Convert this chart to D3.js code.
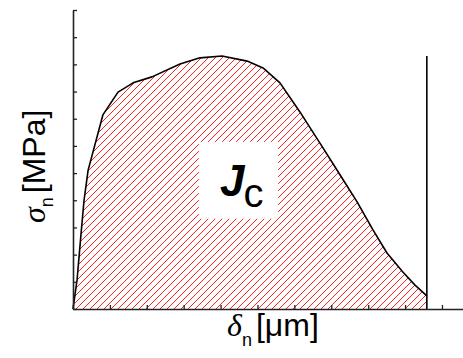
<!DOCTYPE html>
<html>
<head>
<meta charset="utf-8">
<script src="https://cdn.jsdelivr.net/npm/d3@7"></script>
<style>
  html, body { margin: 0; padding: 0; background: #fff; }
  svg { display: block; }
</style>
</head>
<body>
<svg id="chart" width="463" height="358"></svg>
<script>
// Traction-separation curve: normal opening (µm) vs. normal stress (MPa)
const opening = [0, 0.11, 0.22, 0.30, 0.41, 0.81, 1.22, 1.63, 2.14, 2.90, 3.44, 4.04, 4.72, 5.15, 5.61, 6.15, 6.78, 7.24, 7.70, 8.13, 8.51, 8.94, 9.27, 9.59];
const stress  = [0, 1.07, 2.80, 4.01, 5.11, 7.14, 7.98, 8.32, 8.54, 9.01, 9.24, 9.31, 9.12, 8.87, 8.32, 7.25, 5.92, 4.93, 3.94, 2.91, 2.06, 1.36, 0.88, 0.48];

const xTicks = [0, 1, 2, 3, 4, 5, 6, 7, 8, 9, 10];
const yTicks = [0, 1, 2, 3, 4, 5, 6, 7, 8, 9, 10, 11];

// Critical opening marker and the label box around J_c (data units)
const criticalOpening = 9.59;
const labelBox = { x0: 3.41, x1: 5.56, y0: 3.32, y1: 6.15 };

const points = opening.map((d, i) => ({ x: d, y: stress[i] }));
const peakStress = d3.max(stress);

const svg = d3.select("#chart");
const x = d3.scaleLinear().domain([0, 10.57]).range([73, 463]);
const y = d3.scaleLinear().domain([0, 11]).range([309, 10]);

// Diagonal red hatching
const defs = svg.append("defs");
const pat = defs.append("pattern")
  .attr("id", "hatch")
  .attr("patternUnits", "userSpaceOnUse")
  .attr("width", 7)
  .attr("height", 7);
pat.append("path")
  .attr("d", "M-1,1 L1,-1 M0,7 L7,0 M6,8 L8,6")
  .attr("stroke", "#ff2020")
  .attr("stroke-width", 1.1)
  .attr("shape-rendering", "crispEdges");

// Area under the curve (fracture energy)
const area = d3.area()
  .x(d => x(d.x))
  .y0(y(0))
  .y1(d => y(d.y));
svg.append("path")
  .datum(points)
  .attr("d", area)
  .attr("fill", "url(#hatch)");

// White box behind the J_c label
svg.append("rect")
  .attr("x", x(labelBox.x0))
  .attr("y", y(labelBox.y1))
  .attr("width", x(labelBox.x1) - x(labelBox.x0))
  .attr("height", y(labelBox.y0) - y(labelBox.y1))
  .attr("fill", "#fff");

const jc = svg.append("text")
  .attr("x", 220)
  .attr("y", 196)
  .attr("font-family", "Liberation Sans, Arial, sans-serif")
  .attr("fill", "#000");
jc.append("tspan")
  .attr("font-size", 44)
  .attr("font-weight", "bold")
  .attr("font-style", "italic")
  .text("J");
jc.append("tspan")
  .attr("font-size", 40)
  .attr("dx", -1)
  .attr("dy", 11)
  .text("c");

// Curve
const line = d3.line()
  .x(d => x(d.x))
  .y(d => y(d.y));
svg.append("path")
  .datum(points)
  .attr("d", line)
  .attr("fill", "none")
  .attr("stroke", "#000")
  .attr("stroke-width", 1.6)
  .attr("stroke-linejoin", "round");

// Vertical marker at the critical opening
svg.append("line")
  .attr("x1", x(criticalOpening)).attr("x2", x(criticalOpening))
  .attr("y1", y(0)).attr("y2", y(peakStress))
  .attr("stroke", "#000")
  .attr("stroke-width", 1.6);

// Axes with inward ticks, no labels
const xAxis = svg.append("g")
  .attr("transform", `translate(0,${y(0)})`)
  .call(d3.axisBottom(x).tickValues(xTicks).tickSize(-4).tickSizeOuter(0).tickFormat(""));
const yAxis = svg.append("g")
  .attr("transform", `translate(${x(0)},0)`)
  .call(d3.axisLeft(y).tickValues(yTicks).tickSize(-4).tickSizeOuter(0).tickFormat(""));
[xAxis, yAxis].forEach(g => {
  g.select(".domain").attr("stroke", "#222").attr("stroke-width", 1.6);
  g.selectAll(".tick line").attr("stroke", "#222").attr("stroke-width", 1.3);
});

// Axis titles
const xt = svg.append("text")
  .attr("x", 227)
  .attr("y", 336)
  .attr("font-family", "Liberation Sans, Arial, sans-serif")
  .attr("font-size", 32)
  .attr("fill", "#000");
xt.append("tspan")
  .attr("font-family", "Liberation Serif, Times New Roman, serif")
  .attr("font-style", "italic")
  .text("δ");
xt.append("tspan")
  .attr("font-size", 18)
  .attr("dy", 10)
  .text("n");
xt.append("tspan")
  .attr("dy", -10)
  .attr("dx", 4)
  .text("[μm]");

const yt = svg.append("text")
  .attr("transform", "translate(45,223) rotate(-90)")
  .attr("font-family", "Liberation Sans, Arial, sans-serif")
  .attr("font-size", 32)
  .attr("fill", "#000");
yt.append("tspan")
  .attr("font-family", "Liberation Serif, Times New Roman, serif")
  .attr("font-style", "italic")
  .text("σ");
yt.append("tspan")
  .attr("font-size", 18)
  .attr("dy", 8)
  .text("n");
yt.append("tspan")
  .attr("dy", -8)
  .attr("dx", 4)
  .text("[MPa]");
</script>
</body>
</html>
